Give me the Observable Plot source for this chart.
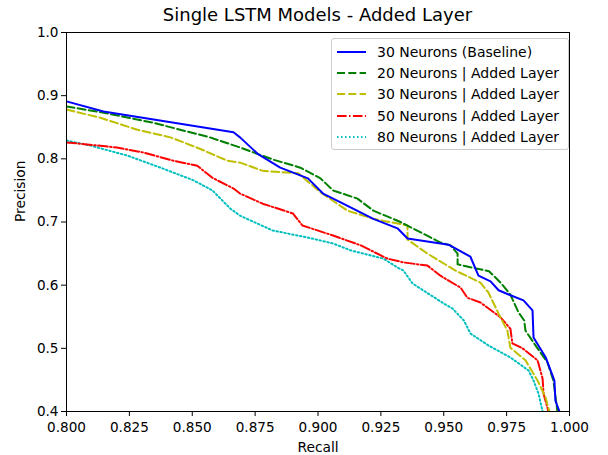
<!DOCTYPE html>
<html>
<head>
<meta charset="utf-8">
<script src="https://cdn.jsdelivr.net/npm/d3@7"></script>
<script src="https://cdn.jsdelivr.net/npm/@observablehq/plot@0.6"></script>
<style>
  html, body { margin: 0; padding: 0; background: #fff; }
  #wrap { position: relative; width: 608px; height: 455px; font-family: "DejaVu Sans", sans-serif; }
  #title { position: absolute; left: 66px; width: 503px; top: 4px; text-align: center; font-size: 18px; line-height: 22px; color: #000; }
  #legend { position: absolute; left: 331px; top: 38px; width: 236px; height: 110px; border: 1px solid #ccc; border-radius: 3px; background: rgba(255,255,255,0.8); font-size: 14px; }
  .row { position: absolute; left: 0; height: 21px; display: flex; align-items: center; white-space: nowrap; }
  .row svg { margin-left: 5px; margin-right: 11px; }
</style>
</head>
<body>
<div id="wrap">
  <div id="chart"></div>
  <div id="title">Single LSTM Models - Added Layer</div>
  <div id="legend"></div>
</div>
<script>
// Series names
const seriesNames = [
  "30 Neurons (Baseline)",
  "20 Neurons | Added Layer",
  "30 Neurons | Added Layer",
  "50 Neurons | Added Layer",
  "80 Neurons | Added Layer"
];
const seriesColors = ["#0000ff", "#008000", "#bfbf00", "#ff0000", "#00bfbf"];
const seriesDash = [null, "8,3.3", "8,3.3", "9.6,2.4,1.5,2.4", "1.5,2.5"];

// 30 Neurons (Baseline)
const baseR = [0.800,0.8147,0.8664,0.869,0.876,0.885,0.896,0.902,0.909,0.922,0.9316,0.9356,0.9487,0.9519,0.9606,0.9638,0.9686,0.9718,0.9765,0.9817,0.9853,0.9857,0.9905,0.994,0.9944,0.996];
const baseP = [0.891,0.875,0.842,0.834,0.808,0.786,0.769,0.745,0.731,0.705,0.690,0.674,0.666,0.664,0.645,0.615,0.606,0.592,0.584,0.576,0.560,0.517,0.486,0.449,0.417,0.400];

// 20 Neurons | Added Layer
const n20R = [0.800,0.8147,0.8346,0.857,0.869,0.882,0.893,0.901,0.906,0.9157,0.922,0.9328,0.9487,0.9527,0.9555,0.9555,0.9634,0.968,0.9726,0.9765,0.9797,0.982,0.9825,0.9873,0.9912,0.9936,0.9952];
const n20P = [0.883,0.873,0.857,0.834,0.818,0.799,0.786,0.769,0.750,0.737,0.718,0.700,0.6675,0.663,0.650,0.633,0.626,0.622,0.604,0.585,0.557,0.544,0.528,0.500,0.478,0.449,0.400];

// 30 Neurons | Added Layer
const n30R = [0.800,0.8135,0.8282,0.8413,0.853,0.864,0.869,0.878,0.8922,0.901,0.9117,0.922,0.9356,0.9356,0.9435,0.9547,0.9646,0.9678,0.9718,0.9753,0.9765,0.9825,0.9873,0.9905,0.992];
const n30P = [0.878,0.865,0.846,0.834,0.816,0.797,0.794,0.781,0.777,0.747,0.718,0.705,0.6945,0.672,0.650,0.623,0.604,0.588,0.555,0.528,0.501,0.481,0.449,0.422,0.400];

// 50 Neurons | Added Layer
const n50R = [0.800,0.820,0.8306,0.8425,0.852,0.858,0.8664,0.869,0.878,0.890,0.8938,0.906,0.917,0.9276,0.934,0.9435,0.9487,0.9567,0.9594,0.9646,0.9726,0.9765,0.9773,0.9813,0.9873,0.9893,0.9897,0.9916];
const n50P = [0.826,0.818,0.810,0.797,0.789,0.770,0.753,0.745,0.729,0.7135,0.6945,0.6786,0.663,0.642,0.636,0.631,0.615,0.596,0.580,0.5726,0.549,0.531,0.508,0.500,0.481,0.452,0.428,0.400];

// 80 Neurons | Added Layer
const n80R = [0.800,0.8095,0.8243,0.8374,0.8505,0.858,0.8652,0.869,0.882,0.8958,0.906,0.913,0.926,0.9316,0.934,0.9376,0.950,0.9535,0.958,0.9606,0.9678,0.9765,0.9837,0.9857,0.9877,0.9893];
const n80P = [0.829,0.821,0.805,0.786,0.766,0.750,0.721,0.710,0.6865,0.6755,0.666,0.655,0.642,0.628,0.623,0.6026,0.571,0.563,0.544,0.5235,0.5045,0.4855,0.465,0.449,0.428,0.400];

const xTicks = [0.8, 0.825, 0.85, 0.875, 0.9, 0.925, 0.95, 0.975, 1.0];
const yTicks = [0.4, 0.5, 0.6, 0.7, 0.8, 0.9, 1.0];

const seriesR = [baseR, n20R, n30R, n50R, n80R];
const seriesP = [baseP, n20P, n30P, n50P, n80P];

const lineMarks = seriesNames.map((name, i) => {
  const data = seriesR[i].map((r, j) => ({r, p: seriesP[i][j]}));
  return Plot.line(data, {
    x: "r", y: "p",
    stroke: seriesColors[i],
    strokeWidth: 2,
    strokeDasharray: seriesDash[i] || undefined,
    strokeLinejoin: "round",
    clip: true
  });
});

const chart = Plot.plot({
  width: 608,
  height: 455,
  marginLeft: 66,
  marginRight: 39,
  marginTop: 32,
  marginBottom: 44,
  style: { fontFamily: "DejaVu Sans, sans-serif", fontSize: "13.6px", background: "#fff", color: "#000" },
  x: { domain: [0.8, 1.0], ticks: xTicks, tickFormat: d3.format(".3f"), label: null },
  y: { domain: [0.4, 1.0], ticks: yTicks, tickFormat: d3.format(".1f"), label: null },
  marks: [
    ...lineMarks.slice().reverse(),
    Plot.frame({ stroke: "#000", strokeWidth: 1 }),
    Plot.axisX({ ticks: xTicks, tickFormat: d3.format(".3f"), tickSize: 5, tickPadding: 6, label: null, stroke: "#000" }),
    Plot.axisY({ ticks: yTicks, tickFormat: d3.format(".1f"), tickSize: 5, tickPadding: 3, label: null, stroke: "#000" }),
    Plot.text(["Recall"], { frameAnchor: "bottom", dy: 40, fontSize: 13.8, fill: "#000" }),
    Plot.text(["Precision"], { frameAnchor: "left", dx: -46, rotate: -90, fontSize: 13.8, fill: "#000" })
  ]
});
document.getElementById("chart").appendChild(chart);

// Legend
const legend = document.getElementById("legend");
seriesNames.forEach((name, i) => {
  const row = document.createElement("div");
  row.className = "row";
  row.style.top = (2.5 + i * 21.2) + "px";
  const svg = d3.create("svg").attr("width", 29).attr("height", 10);
  svg.append("line").attr("x1", 0).attr("x2", 29).attr("y1", 5).attr("y2", 5)
    .attr("stroke", seriesColors[i]).attr("stroke-width", 2)
    .attr("stroke-dasharray", seriesDash[i] || null);
  row.appendChild(svg.node());
  const span = document.createElement("span");
  span.textContent = name;
  row.appendChild(span);
  legend.appendChild(row);
});
</script>
</body>
</html>
